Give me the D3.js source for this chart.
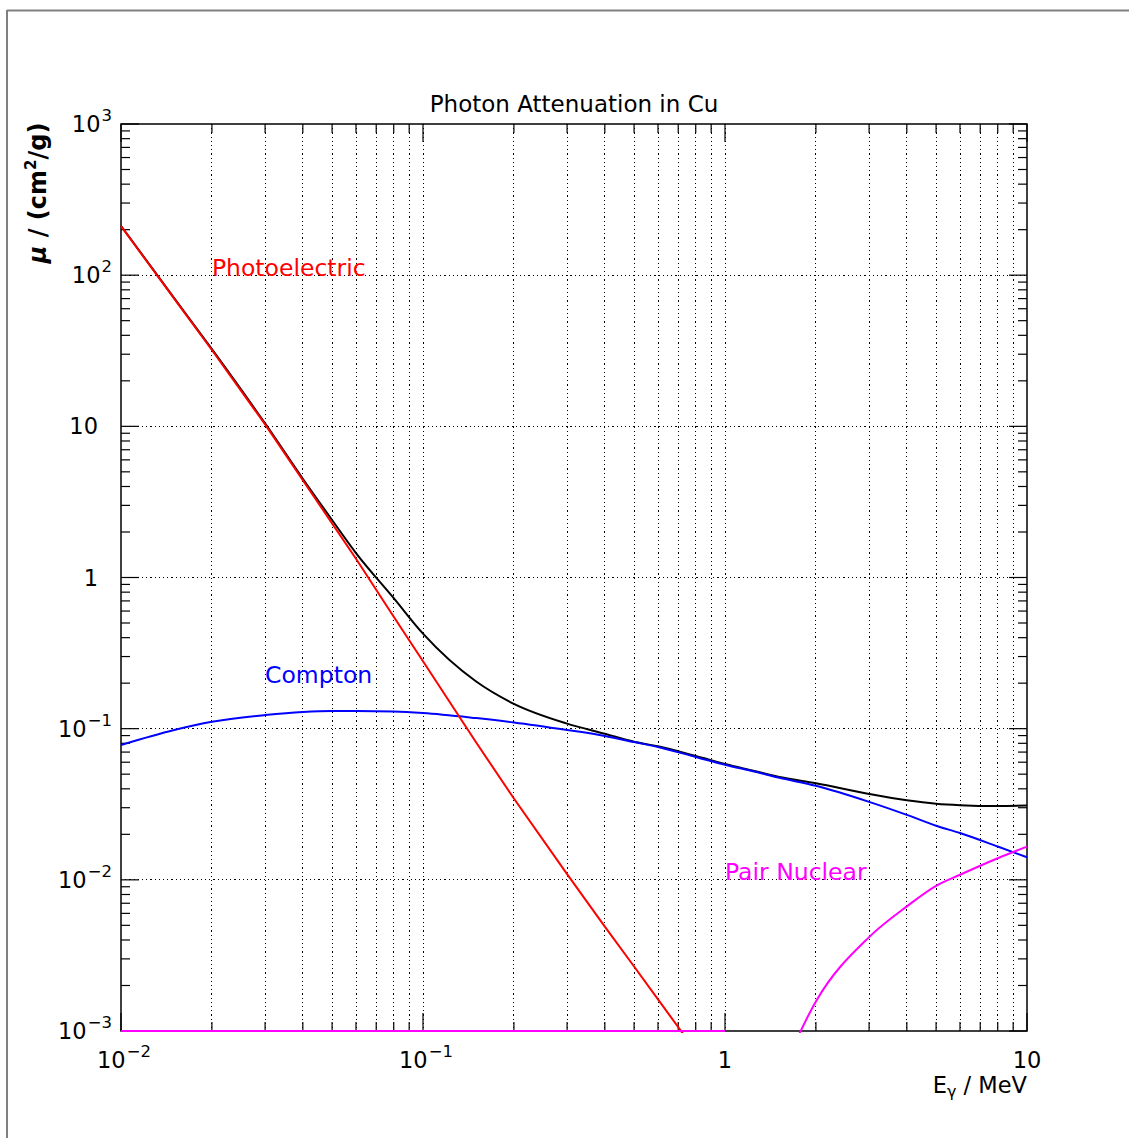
<!DOCTYPE html>
<html>
<head>
<meta charset="utf-8">
<script src="https://cdn.jsdelivr.net/npm/d3@7"></script>
<style>
  body { margin: 0; background: #fff; }
  svg { display: block; }
  text { font-family: "DejaVu Sans", "Liberation Sans", sans-serif; }
</style>
</head>
<body>
<svg id="chart" width="1129" height="1138"></svg>
<script>
// ---- data ----
const energies = [0.01, 0.015, 0.02, 0.03, 0.04, 0.05, 0.06, 0.08, 0.1, 0.15, 0.2, 0.3, 0.4, 0.5, 0.6, 0.8, 1, 1.25, 1.5, 2, 3, 4, 5, 6, 8, 10];
const photoelectric = [211, 70, 32, 10.3, 4.4, 2.28, 1.33, 0.55, 0.279, 0.081, 0.0345, 0.0109, 0.0049, 0.00267, 0.00162, 0.000735, 0.0004, 0.00022, 0.00014, 0.00007, 0.00003, 0.000018, 0.000012, 0.000009, 0.000006, 0.000004];
const compton = [0.078, 0.098, 0.111, 0.123, 0.129, 0.131, 0.131, 0.130, 0.127, 0.1175, 0.110, 0.098, 0.0895, 0.0815, 0.0757, 0.065, 0.0577, 0.052, 0.0475, 0.0419, 0.0328, 0.0269, 0.0228, 0.0204, 0.0166, 0.0141];
const pairNuclear = [0, 0, 0, 0, 0, 0, 0, 0, 0, 0, 0, 0, 0, 0, 0, 0, 0, null, 0.00047, 0.00157, 0.00418, 0.00667, 0.00912, 0.0108, 0.0139, 0.0166];
const total = [212, 70.5, 32.4, 10.45, 4.5, 2.4, 1.45, 0.73, 0.425, 0.205, 0.146, 0.108, 0.0925, 0.082, 0.0765, 0.066, 0.0585, 0.0525, 0.048, 0.0435, 0.037, 0.0336, 0.0319, 0.0312, 0.0308, 0.031];

const xMajorTicks = [0.01, 0.1, 1, 10];
const xTickLabels = [["10", "−2"], ["10", "−1"], ["1", ""], ["10", ""]];
const yMajorTicks = [1e-3, 1e-2, 1e-1, 1, 10, 100, 1000];
const yTickLabels = [["10", "−3"], ["10", "−2"], ["10", "−1"], ["1", ""], ["10", ""], ["10", "2"], ["10", "3"]];

const seriesLabels = [
  { text: "Photoelectric", e: 0.02, v: 98, color: "#ff0000" },
  { text: "Compton", e: 0.03, v: 0.2, color: "#0000ff" },
  { text: "Pair Nuclear", e: 1.0, v: 0.01, color: "#ff00ff" }
];

const titleText = "Photon Attenuation in Cu";

// ---- layout ----
const svg = d3.select("#chart");
const L = 121, R = 1027, T = 124, B = 1031;

const x = d3.scaleLog().domain([0.01, 10]).range([L, R]);
const y = d3.scaleLog().domain([1e-3, 1e3]).range([B, T]);

// outer page border (top & left)
svg.append("line").attr("x1", 7).attr("x2", 1129).attr("y1", 10.5).attr("y2", 10.5)
  .attr("stroke", "#808080").attr("stroke-width", 2);
svg.append("line").attr("x1", 7).attr("x2", 7).attr("y1", 10).attr("y2", 1138)
  .attr("stroke", "#808080").attr("stroke-width", 2);

// grid
const gGrid = svg.append("g");
const xAll = x.ticks();
xAll.filter(t => t > 0.0100001 && t < 9.9999).forEach(t => {
  gGrid.append("line").attr("x1", x(t)).attr("x2", x(t)).attr("y1", T).attr("y2", B)
    .attr("stroke", "#000").attr("stroke-width", 1).attr("stroke-dasharray", "1.2,3")
    .attr("shape-rendering", "crispEdges");
});
yMajorTicks.filter(t => t > 1.0001e-3 && t < 999).forEach(t => {
  gGrid.append("line").attr("x1", L).attr("x2", R).attr("y1", y(t)).attr("y2", y(t))
    .attr("stroke", "#000").attr("stroke-width", 1).attr("stroke-dasharray", "1.2,3")
    .attr("shape-rendering", "crispEdges");
});

// frame
svg.append("rect").attr("x", L).attr("y", T).attr("width", R - L).attr("height", B - T)
  .attr("fill", "none").attr("stroke", "#000").attr("stroke-width", 1.5);

// ticks
const gTicks = svg.append("g").attr("stroke", "#000").attr("stroke-width", 1.2);
const isMajor = t => Math.abs(Math.log10(t) - Math.round(Math.log10(t))) < 1e-6;
xAll.forEach(t => {
  const len = isMajor(t) ? 18 : 9;
  gTicks.append("line").attr("x1", x(t)).attr("x2", x(t)).attr("y1", B).attr("y2", B - len);
  gTicks.append("line").attr("x1", x(t)).attr("x2", x(t)).attr("y1", T).attr("y2", T + len);
});
y.ticks().forEach(t => {
  const len = isMajor(t) ? 18 : 9;
  gTicks.append("line").attr("x1", L).attr("x2", L + len).attr("y1", y(t)).attr("y2", y(t));
  gTicks.append("line").attr("x1", R).attr("x2", R - len).attr("y1", y(t)).attr("y2", y(t));
});

// curves (drawn over the frame)
const clip = svg.append("defs").append("clipPath").attr("id", "plotclip");
clip.append("rect").attr("x", L - 1).attr("y", T - 2).attr("width", R - L + 2).attr("height", B - T + 4);

const gCurves = svg.append("g").attr("clip-path", "url(#plotclip)");
function draw(values, color, smooth) {
  const pts = energies.map((e, i) => ({ e, v: values[i] }));
  const line = d3.line()
    .defined(d => d.v !== null)
    .curve(smooth ? d3.curveMonotoneX : d3.curveLinear)
    .x(d => x(d.e))
    .y(d => d.v > 0 ? y(d.v) : y.range()[0]);
  gCurves.append("path").datum(pts).attr("d", line)
    .attr("fill", "none").attr("stroke", color).attr("stroke-width", 2)
    .attr("stroke-linejoin", "round");
}
draw(total, "#000000", true);
draw(compton, "#0000ff", true);
draw(photoelectric, "#ff0000", false);
draw(pairNuclear, "#ff00ff", true);

// tick labels
function labelWithSup(g, base, sup, size, supSize, rise) {
  g.append("tspan").text(base).attr("font-size", size);
  if (sup) {
    g.append("tspan").text(sup).attr("font-size", supSize).attr("dy", -rise).attr("dx", 1);
  }
}
xMajorTicks.forEach((t, i) => {
  const [b, s] = xTickLabels[i];
  const tx = svg.append("text").attr("x", x(t) + (s ? 3 : 0)).attr("y", 1068)
    .attr("text-anchor", "middle").attr("fill", "#000");
  labelWithSup(tx, b, s, 22.5, 16.5, 11);
});
yMajorTicks.forEach((t, i) => {
  const [b, s] = yTickLabels[i];
  const tx = svg.append("text").attr("x", s ? 112 : 98).attr("y", y(t) + 8)
    .attr("text-anchor", "end").attr("fill", "#000");
  labelWithSup(tx, b, s, 22.5, 16.5, 11);
});

// title
svg.append("text").attr("x", 574).attr("y", 112).attr("text-anchor", "middle")
  .attr("font-size", 23).attr("fill", "#000").text(titleText);

// x axis title: E_gamma / MeV
const xt = svg.append("text").attr("x", R).attr("y", 1093).attr("text-anchor", "end")
  .attr("font-size", 22.5).attr("fill", "#000");
xt.append("tspan").text("E");
xt.append("tspan").text("γ").attr("font-size", 16).attr("dy", 4);
xt.append("tspan").text(" / MeV").attr("dy", -4);

// y axis title: mu / (cm^2/g)
const yt = svg.append("text").attr("transform", "translate(46,193) rotate(-90)")
  .attr("text-anchor", "middle").attr("font-size", 24).attr("font-weight", "bold").attr("fill", "#000");
yt.append("tspan").text("μ").attr("font-style", "italic");
yt.append("tspan").text(" / (cm");
yt.append("tspan").text("2").attr("font-size", 15).attr("dy", -10);
yt.append("tspan").text("/g)").attr("dy", 10);

// series labels
seriesLabels.forEach(d => {
  svg.append("text").attr("x", x(d.e)).attr("y", y(d.v)).attr("fill", d.color)
    .attr("font-size", 23.5).text(d.text);
});
</script>
</body>
</html>
